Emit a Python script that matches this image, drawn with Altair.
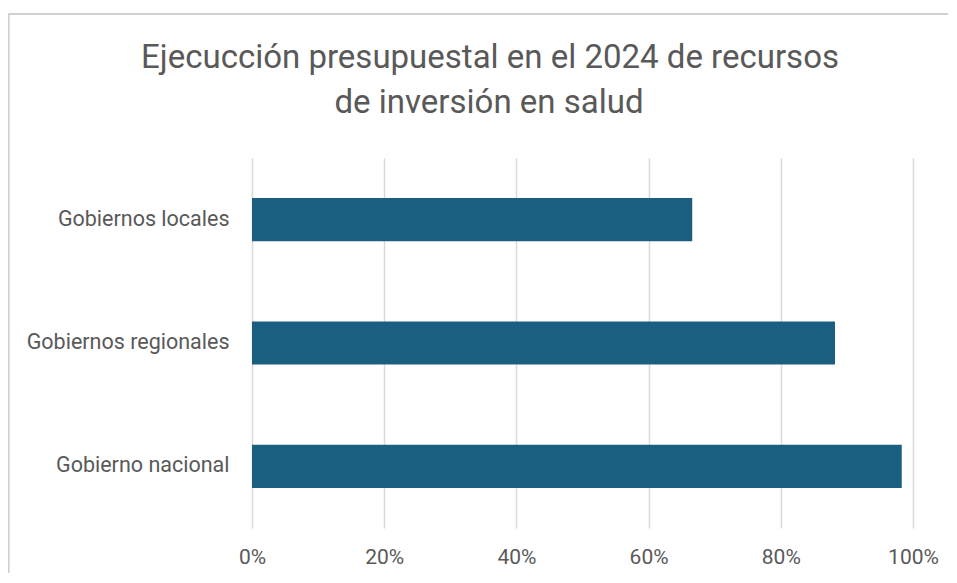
import altair as alt
import pandas as pd

categories = ["Gobiernos locales", "Gobiernos regionales", "Gobierno nacional"]
values = [0.666, 0.882, 0.983]
title_lines = ["Ejecucción presupuestal en el 2024 de recursos", "de inversión en salud"]

df = pd.DataFrame({"cat": categories, "val": values})

bars = alt.Chart(df).mark_bar(color="#1a5f7f").encode(
    x=alt.X("val:Q", scale=alt.Scale(domain=[0, 1], nice=False),
            axis=alt.Axis(format="%", values=[0, 0.2, 0.4, 0.6, 0.8, 1.0], title=None,
                          domain=False, ticks=False, grid=True, gridColor="#d9d9d9",
                          gridWidth=1.5, labelFontSize=21, labelColor="#595959",
                          labelFont="Roboto", labelPadding=18, labelFlush=False)),
    y=alt.Y("cat:N", sort=categories,
            scale=alt.Scale(paddingInner=0.65, paddingOuter=0.325),
            axis=alt.Axis(title=None, domain=False, ticks=False, labelFontSize=21.5,
                          labelColor="#595959", labelFont="Roboto", labelPadding=23,
                          labelLimit=400)),
)

frame_top = alt.Chart(df).mark_rule(color="#d0d0d0", strokeWidth=1.5).encode(
    x=alt.value(-243.5), x2=alt.value(696), y=alt.value(-144)
)
frame_left = alt.Chart(df).mark_rule(color="#d0d0d0", strokeWidth=1.5).encode(
    x=alt.value(-243.5), y=alt.value(-144), y2=alt.value(415)
)

t1 = alt.Chart(pd.DataFrame({"t": [title_lines[0]]})).mark_text(
    font="Roboto", fontSize=33, color="#595959", baseline="alphabetic", align="center"
).encode(text="t:N", x=alt.value(238), y=alt.value(-90))
t2 = alt.Chart(pd.DataFrame({"t": [title_lines[1]]})).mark_text(
    font="Roboto", fontSize=33, color="#595959", baseline="alphabetic", align="center"
).encode(text="t:N", x=alt.value(237), y=alt.value(-45))

chart = alt.layer(frame_top, frame_left, bars, t1, t2).properties(
    width=661, height=370,
    autosize=alt.AutoSizeParams(type="none"),
    padding={"left": 244, "top": 150, "right": 35, "bottom": 45},
).configure_view(stroke=None)

chart.save("out.html", embed_options={"renderer": "svg", "actions": False})
